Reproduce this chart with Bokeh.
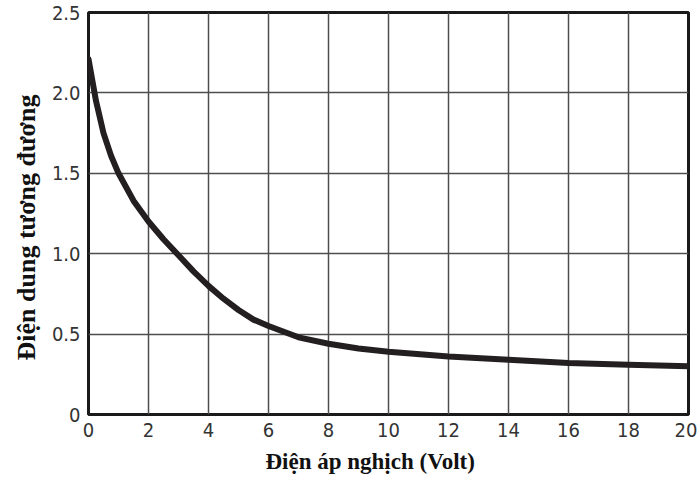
from bokeh.plotting import figure
from bokeh.models import FixedTicker, ColumnDataSource, Title
from bokeh.embed import file_html
from bokeh.resources import INLINE

# Reverse voltage (V) and relative equivalent capacitance
reverse_voltage = [0, 0.25, 0.5, 0.75, 1, 1.5, 2, 2.5, 3, 3.5, 4, 4.5, 5, 5.5,
                   6, 7, 8, 9, 10, 12, 14, 16, 18, 20]
capacitance = [2.21, 1.95, 1.75, 1.61, 1.50, 1.33, 1.20, 1.09, 0.99, 0.89, 0.80,
               0.72, 0.65, 0.59, 0.55, 0.48, 0.44, 0.41, 0.39, 0.36, 0.34, 0.32,
               0.31, 0.30]

x_ticks = [0, 2, 4, 6, 8, 10, 12, 14, 16, 18, 20]
y_ticks = [0, 0.5, 1.0, 1.5, 2.0, 2.5]
y_tick_labels = ["0", "0.5", "1.0", "1.5", "2.0", "2.5"]

x_title = "Điện áp nghịch (Volt)"
y_title = "Điện dung tương đương"

TICK_FONT = "'Liberation Sans Narrow', 'DejaVu Sans Condensed', 'Roboto Condensed', Roboto, sans-serif"

p = figure(
    width=697, height=484,
    frame_width=600, frame_height=402,
    x_range=(0, 20), y_range=(0, 2.5),
    output_backend="svg", toolbar_location=None,
    min_border_left=88, min_border_right=9,
    min_border_top=12, min_border_bottom=70,
)
p.background_fill_color = "white"
p.border_fill_color = "white"
p.outline_line_color = "#1a1a1a"
p.outline_line_width = 3

src = ColumnDataSource(dict(x=reverse_voltage, y=capacitance))
p.line("x", "y", source=src, line_color="#231f20", line_width=6,
       line_cap="round", line_join="round")

p.xaxis.ticker = FixedTicker(ticks=x_ticks)
p.yaxis.ticker = FixedTicker(ticks=y_ticks)
p.yaxis.major_label_overrides = {t: s for t, s in zip(y_ticks, y_tick_labels)}

for g in (p.xgrid, p.ygrid):
    g.grid_line_color = "#4d4d4d"
    g.grid_line_width = 1.5
p.xgrid.ticker = FixedTicker(ticks=x_ticks)
p.ygrid.ticker = FixedTicker(ticks=y_ticks)

for ax in (p.xaxis, p.yaxis):
    ax.axis_line_color = None
    ax.major_tick_line_color = None
    ax.minor_tick_line_color = None
    ax.major_tick_out = 0
    ax.major_tick_in = 0
    ax.major_label_text_font = TICK_FONT
    ax.major_label_text_font_size = "20px"
    ax.major_label_text_color = "#333333"
    ax.major_label_standoff = 8

# Axis titles as side titles, positioned along the frame edges
p.add_layout(Title(text=x_title, align="left", offset=177, standoff=14,
                   text_font="Liberation Serif", text_font_style="bold",
                   text_font_size="23px", text_color="#111111"), "below")
p.add_layout(Title(text=y_title, align="left", offset=54, standoff=15,
                   text_font="Liberation Serif", text_font_style="bold",
                   text_font_size="26px", text_color="#111111"), "left")

open("out.html", "w").write(file_html(p, INLINE))
